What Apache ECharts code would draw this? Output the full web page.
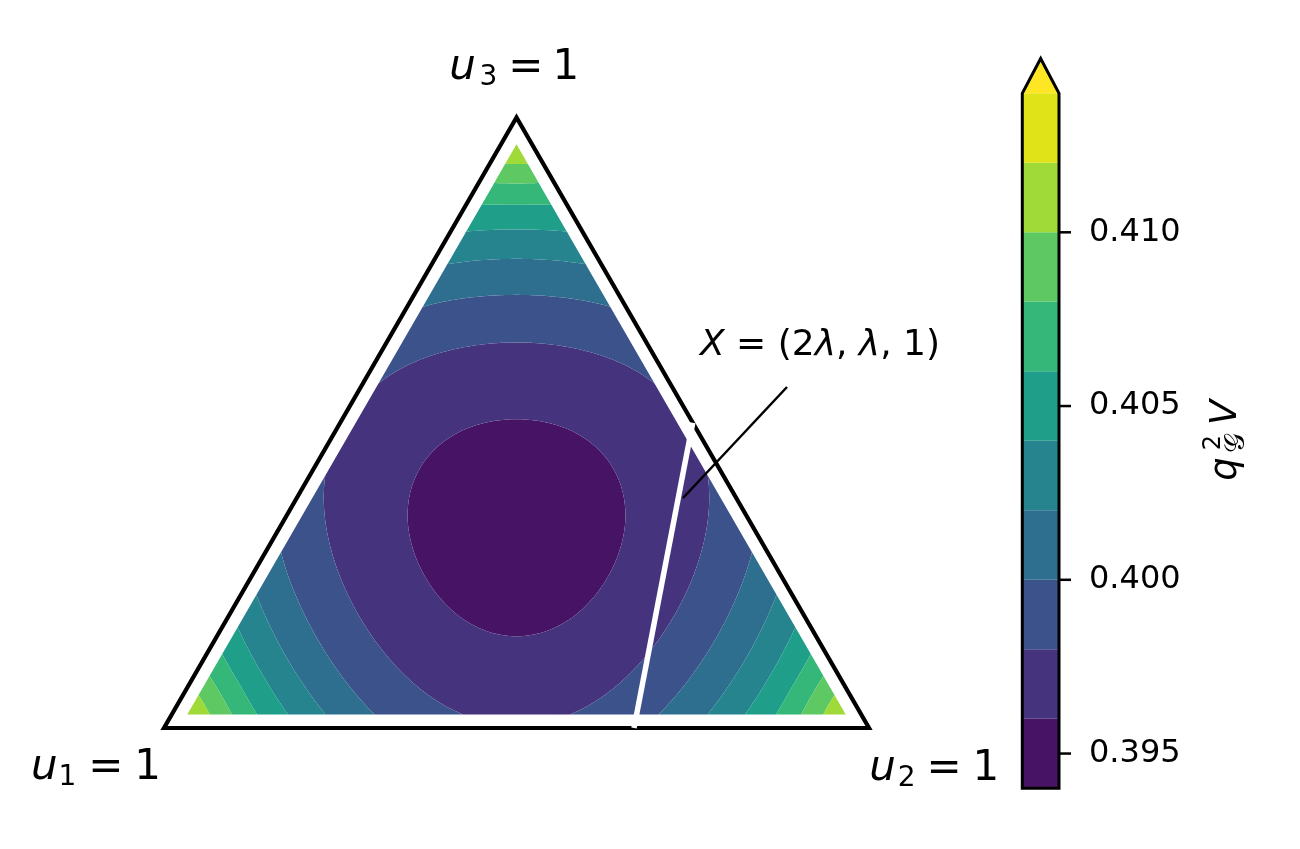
<!DOCTYPE html>
<html><head><meta charset="utf-8">
<script src="https://cdn.jsdelivr.net/npm/echarts@6/dist/echarts.min.js"></script>
<style>html,body{margin:0;padding:0;background:#fff}#c{width:1300px;height:849px}</style>
</head><body><div id="c"></div>
<script>
// ---------------- data ----------------
// contour levels of q_G^2 V and their colours (viridis, extend = max)
const LEVELS = [0.394, 0.396, 0.398, 0.400, 0.402, 0.404, 0.406, 0.408, 0.410, 0.412, 0.414];
const BAND_COLORS = ['#471365', '#46337e', '#3b528b', '#2e6e8e', '#25848e', '#1f9e89', '#35b779', '#5ec962', '#a0da39', '#dfe318'];
const OVER_COLOR = '#fde725';
const COLORBAR_TICKS = [0.395, 0.400, 0.405, 0.410];
// q_G^2 V sampled on a ternary grid (12 steps); row k = u3 index (bottom -> top), entries left -> right (u2 index)
const GRID_N = 12;
const DOMAIN_EPS = 0.022; // smallest u_i value of the sampled domain
const FIELD_ROWS = [
  [0.41197, 0.40713, 0.40348, 0.40084, 0.39905, 0.39802, 0.39769, 0.39802, 0.39905, 0.40084, 0.40348, 0.40713, 0.41197],
  [0.40713, 0.40328, 0.40045, 0.39847, 0.39723, 0.39662, 0.39662, 0.39723, 0.39847, 0.40045, 0.40328, 0.40713],
  [0.40348, 0.40045, 0.39829, 0.39685, 0.39602, 0.39576, 0.39602, 0.39685, 0.39829, 0.40045, 0.40348],
  [0.40084, 0.39847, 0.39685, 0.39583, 0.39535, 0.39535, 0.39583, 0.39685, 0.39847, 0.40084],
  [0.39905, 0.39723, 0.39602, 0.39535, 0.39513, 0.39535, 0.39602, 0.39723, 0.39905],
  [0.39802, 0.39662, 0.39576, 0.39535, 0.39535, 0.39576, 0.39662, 0.39802],
  [0.39769, 0.39662, 0.39602, 0.39583, 0.39602, 0.39662, 0.39769],
  [0.39802, 0.39723, 0.39685, 0.39685, 0.39723, 0.39802],
  [0.39905, 0.39847, 0.39829, 0.39847, 0.39905],
  [0.40084, 0.40045, 0.40045, 0.40084],
  [0.40348, 0.40328, 0.40348],
  [0.40713, 0.40713],
  [0.41197]
];
// triangle vertices (u1, u2, u3) and the line X = (2λ, λ, 1)
const TRI_VERTS = [[1, 0, 0], [0, 1, 0], [0, 0, 1]];
const LINE_X = [[1/3, 2/3, 0], [0, 1/2, 1/2]];

// ---------------- helpers ----------------
const SQ3 = Math.sqrt(3);
function toXY(u) { const s = u[0] + u[1] + u[2]; return [(u[1] + u[2] / 2) / s, (u[2] * SQ3 / 2) / s]; }

// smooth (thin-plate) surface through the sampled grid values
function buildSurface() {
  const s = 1 - 3 * DOMAIN_EPS, pts = [], vals = [];
  for (let k = 0; k <= GRID_N; k++) for (let j = 0; j <= GRID_N - k; j++) {
    const i = GRID_N - k - j;
    pts.push(toXY([DOMAIN_EPS + s * i / GRID_N, DOMAIN_EPS + s * j / GRID_N, DOMAIN_EPS + s * k / GRID_N]));
    vals.push(FIELD_ROWS[k][j]);
  }
  const n = pts.length, m = n + 3;
  const mean = vals.reduce((a, b) => a + b, 0) / n;
  const phi = r => r > 1e-12 ? r * r * Math.log(r) : 0;
  const A = [];
  for (let r = 0; r < m; r++) A.push(new Float64Array(m + 1));
  for (let i = 0; i < n; i++) {
    for (let j = 0; j < n; j++) A[i][j] = phi(Math.hypot(pts[i][0] - pts[j][0], pts[i][1] - pts[j][1]));
    A[i][n] = 1; A[i][n + 1] = pts[i][0]; A[i][n + 2] = pts[i][1];
    A[n][i] = 1; A[n + 1][i] = pts[i][0]; A[n + 2][i] = pts[i][1];
    A[i][m] = vals[i] - mean;
  }
  for (let c = 0; c < m; c++) {
    let p = c;
    for (let r = c + 1; r < m; r++) if (Math.abs(A[r][c]) > Math.abs(A[p][c])) p = r;
    const t = A[c]; A[c] = A[p]; A[p] = t;
    for (let r = c + 1; r < m; r++) {
      const f = A[r][c] / A[c][c];
      if (f !== 0) for (let cc = c; cc <= m; cc++) A[r][cc] -= f * A[c][cc];
    }
  }
  const w = new Float64Array(m);
  for (let r = m - 1; r >= 0; r--) {
    let sum = A[r][m];
    for (let cc = r + 1; cc < m; cc++) sum -= A[r][cc] * w[cc];
    w[r] = sum / A[r][r];
  }
  return (x, y) => {
    let v = mean + w[n] + w[n + 1] * x + w[n + 2] * y;
    for (let i = 0; i < n; i++) v += w[i] * phi(Math.hypot(x - pts[i][0], y - pts[i][1]));
    return v;
  };
}

const NB = BAND_COLORS.length;
function bandOf(v) { if (v >= LEVELS[NB]) return NB; for (let b = NB - 1; b >= 0; b--) if (v >= LEVELS[b]) return b; return 0; }
function clip(poly, t, keepAbove) {
  const out = [], n = poly.length;
  for (let i = 0; i < n; i++) {
    const P = poly[i], Q = poly[(i + 1) % n];
    const pin = keepAbove ? P[2] >= t : P[2] <= t;
    const qin = keepAbove ? Q[2] >= t : Q[2] <= t;
    if (pin) out.push(P);
    if (pin !== qin) { const r = (t - P[2]) / (Q[2] - P[2]); out.push([P[0] + r * (Q[0] - P[0]), P[1] + r * (Q[1] - P[1]), t]); }
  }
  return out;
}

// filled contour bands (marching triangles on a refined ternary mesh)
const BAND_POLYS = [];
for (let b = 0; b <= NB; b++) BAND_POLYS.push([]);
(function () {
  const f = buildSurface();
  const M = 120, s = 1 - 3 * DOMAIN_EPS, fine = [], rowStart = [];
  for (let k = 0; k <= M; k++) {
    rowStart.push(fine.length);
    for (let j = 0; j <= M - k; j++) {
      const i = M - k - j;
      const xy = toXY([DOMAIN_EPS + s * i / M, DOMAIN_EPS + s * j / M, DOMAIN_EPS + s * k / M]);
      fine.push([xy[0], xy[1], f(xy[0], xy[1])]);
    }
  }
  const node = (k, j) => fine[rowStart[k] + j];
  function addTri(A, B, C) {
    const ba = bandOf(A[2]), bb = bandOf(B[2]), bc = bandOf(C[2]);
    const lo = Math.min(ba, bb, bc), hi = Math.max(ba, bb, bc);
    if (lo === hi) { BAND_POLYS[lo].push([A, B, C]); return; }
    for (let b = lo; b <= hi; b++) {
      let poly = [A, B, C];
      if (b > lo) poly = clip(poly, LEVELS[b], true);
      if (poly.length >= 3 && b < hi) poly = clip(poly, LEVELS[b + 1], false);
      if (poly.length >= 3) BAND_POLYS[b].push(poly);
    }
  }
  for (let k = 0; k < M; k++) for (let j = 0; j < M - k; j++) {
    addTri(node(k, j), node(k, j + 1), node(k + 1, j));
    if (j < M - k - 1) addTri(node(k, j + 1), node(k + 1, j + 1), node(k + 1, j));
  }
})();

// ---------------- chart ----------------
const chart = echarts.init(document.getElementById('c'), null, { renderer: 'canvas' });
const FONT = '"DejaVu Sans", "Liberation Sans", sans-serif';
const K = 0.32; // baseline offset for middle-aligned text

function glyph(x, base, text, size, italic, family) {
  return { type: 'text', x: x, y: base - K * size, silent: true, z: 100,
    style: { text: text, fontSize: size, fontFamily: family || FONT, fontStyle: italic ? 'italic' : 'normal',
      fill: '#000', align: 'center', verticalAlign: 'middle' } };
}
function vertexLabel(cu, csub, ceq, cone, base, sub) {
  return [glyph(cu, base, 'u', 42, true), glyph(csub, base + 5, sub, 28, false),
          glyph(ceq, base, '=', 42, false), glyph(cone, base, '1', 42, false)];
}

const option = {
  animation: false,
  backgroundColor: '#ffffff',
  grid: [
    { left: 164, top: 117.5, width: 705, height: 610.5, outerBoundsMode: 'none' },
    { left: 1022.3, top: 93.3, width: 36.7, height: 695, outerBoundsMode: 'none' }
  ],
  xAxis: [
    { type: 'value', gridIndex: 0, min: 0, max: 1, show: false },
    { type: 'value', gridIndex: 1, min: 0, max: 1, show: false }
  ],
  yAxis: [
    { type: 'value', gridIndex: 0, min: 0, max: SQ3 / 2, show: false },
    { type: 'value', gridIndex: 1, min: LEVELS[0], max: LEVELS[LEVELS.length - 1], position: 'right',
      axisLine: { show: false }, splitLine: { show: false },
      axisTick: { show: false },
      axisLabel: { show: true, margin: 30, color: '#000', fontSize: 32, fontFamily: FONT,
        customValues: COLORBAR_TICKS, formatter: v => Number(v).toFixed(3) } }
  ],
  series: [
    { type: 'custom', name: 'contour', xAxisIndex: 0, yAxisIndex: 0, silent: true, clip: false, z: 1,
      data: BAND_POLYS.map((_, b) => [0.5, 0.4, b]),
      renderItem: function (params, api) {
        const b = api.value(2), polys = BAND_POLYS[b];
        if (!polys.length) return null;
        const parts = [];
        for (const poly of polys) {
          for (let i = 0; i < poly.length; i++) {
            const p = api.coord([poly[i][0], poly[i][1]]);
            parts.push((i ? 'L' : 'M') + p[0].toFixed(2) + ' ' + p[1].toFixed(2));
          }
          parts.push('Z');
        }
        return { type: 'path', shape: { pathData: parts.join('') },
          style: { fill: b < NB ? BAND_COLORS[b] : OVER_COLOR, stroke: null } };
      } },
    { type: 'custom', name: 'frame', xAxisIndex: 0, yAxisIndex: 0, silent: true, clip: false, z: 3,
      data: [[0.5, 0.4]],
      renderItem: function (params, api) {
        return { type: 'polygon', shape: { points: TRI_VERTS.map(u => api.coord(toXY(u))) },
          style: { fill: 'none', stroke: '#000', lineWidth: 4.2, lineJoin: 'miter' } };
      } },
    { type: 'custom', name: 'X line', xAxisIndex: 0, yAxisIndex: 0, silent: true, clip: false, z: 4,
      data: [[0.5, 0.4]],
      renderItem: function (params, api) {
        const a = api.coord(toXY(LINE_X[0])), b = api.coord(toXY(LINE_X[1]));
        return { type: 'line', shape: { x1: a[0], y1: a[1], x2: b[0], y2: b[1] },
          style: { stroke: '#ffffff', lineWidth: 5.5, lineCap: 'butt' } };
      } },
    { type: 'custom', name: 'colorbar', xAxisIndex: 1, yAxisIndex: 1, silent: true, clip: false, z: 2,
      data: LEVELS.map((_, b) => [0.5, LEVELS[0], b]),
      renderItem: function (params, api) {
        const b = api.value(2);
        const lb = api.coord([0, LEVELS[0]]), rt = api.coord([1, LEVELS[LEVELS.length - 1]]);
        const L = lb[0], R = rt[0], B = lb[1], T = rt[1], mid = (L + R) / 2, apex = T - 0.05 * (B - T);
        if (b < NB) {
          const p0 = api.coord([0, LEVELS[b]]), p1 = api.coord([1, LEVELS[b + 1]]);
          return { type: 'rect', shape: { x: p0[0], y: p1[1], width: p1[0] - p0[0], height: p0[1] - p1[1] },
            style: { fill: BAND_COLORS[b] } };
        }
        const ticks = COLORBAR_TICKS.map(v => {
          const y = api.coord([1, v])[1];
          return { type: 'line', z2: 10, shape: { x1: R, y1: y, x2: R + 12, y2: y }, style: { stroke: '#000', lineWidth: 2.5 } };
        });
        return { type: 'group', children: [
          { type: 'polygon', shape: { points: [[L, T], [mid, apex], [R, T]] }, style: { fill: OVER_COLOR } },
          { type: 'polygon', z2: 10, shape: { points: [[L, B], [L, T], [mid, apex], [R, T], [R, B]] },
            style: { fill: 'none', stroke: '#000', lineWidth: 3, lineJoin: 'miter' } }
        ].concat(ticks) };
      } }
  ],
  graphic: { elements: [
    ...vertexLabel(462.5, 488.3, 525.8, 565.8, 82, '3'),
    ...vertexLabel(44.2, 67.5, 105.8, 147.5, 782, '1'),
    ...vertexLabel(882.5, 906.7, 944.2, 985.8, 783, '2'),
    { type: 'line', silent: true, z: 100, shape: { x1: 787, y1: 387, x2: 683, y2: 498 },
      style: { stroke: '#000', lineWidth: 2.5 } },
    { type: 'text', x: 700, y: 357 - K * 36, silent: true, z: 100,
      style: { text: '{i|X} = (2{i|λ}, {i|λ}, 1)', fontSize: 36, fontFamily: FONT, fill: '#000',
        align: 'left', verticalAlign: 'middle',
        rich: { i: { fontSize: 36, fontFamily: FONT, fontStyle: 'italic', fill: '#000' } } } },
    { type: 'group', x: 1238, y: 490, rotation: Math.PI / 2, silent: true, z: 100, children: [
      glyph(21, 0, 'q', 37, true),
      glyph(47.5, -17, '2', 24, false),
      glyph(47, 8, '𝒢', 28, false),
      glyph(77.5, 0, 'V', 37, true)
    ] }
  ] }
};
chart.setOption(option);
</script>
</body></html>
